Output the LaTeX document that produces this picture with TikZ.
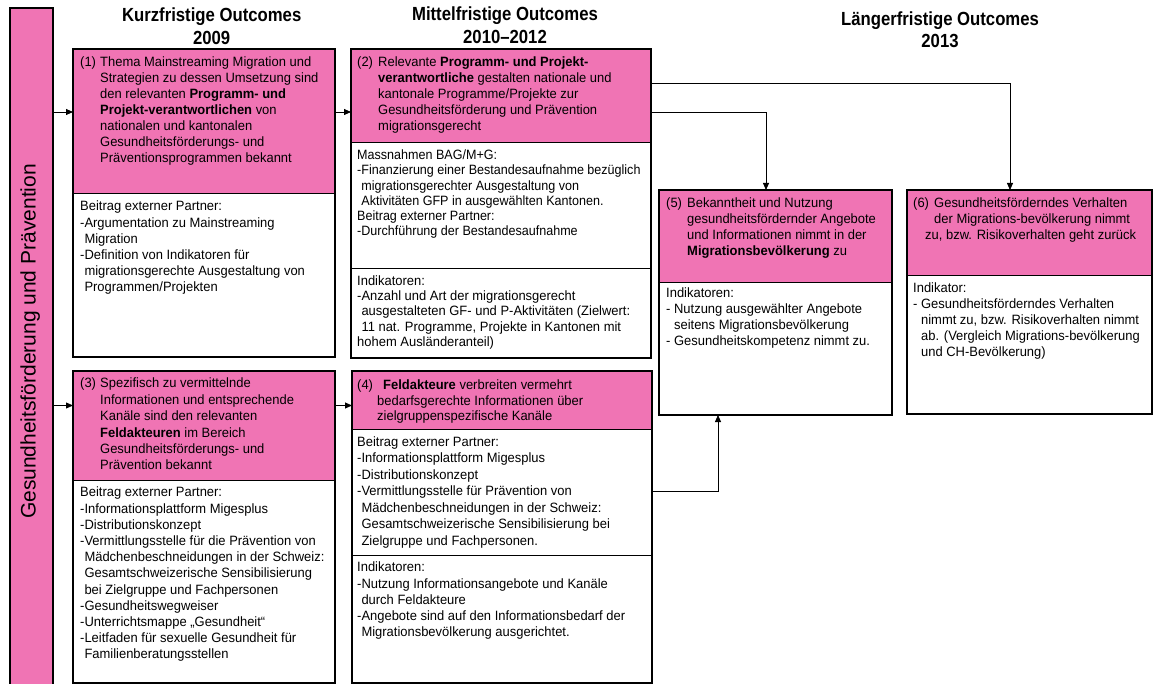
\documentclass[tikz,border=0pt]{standalone}
\usepackage{fontspec}
\setmainfont{Liberation Sans}
\newfontfamily\bodyf[FakeStretch=0.96]{Liberation Sans}
\newfontfamily\bodyn[FakeStretch=0.93]{Liberation Sans}
\newfontfamily\headf[FakeStretch=0.88]{Liberation Sans}
\usetikzlibrary{arrows.meta,calc}
\definecolor{boxpink}{RGB}{240,116,180}
% strut that fixes the first baseline 12pt below the top of a text block
\newcommand\fl{\rule{0pt}{12pt}}
\newcommand\hl{\rule{0pt}{16pt}}
\newcommand\ind{\phantom{-}}
\newcommand\sind{\phantom{- }}

\begin{document}
\begin{tikzpicture}[x=1pt,y=-1pt,
  frame/.style={draw, line width=1.8pt, anchor=north west, inner sep=0pt, outer sep=0pt},
  pinkpart/.style={draw, line width=0.8pt, fill=boxpink, anchor=north west, inner sep=0pt, outer sep=0pt},
  whitepart/.style={draw, line width=0.8pt, fill=white, anchor=north west, inner sep=0pt, outer sep=0pt},
  txt/.style={anchor=north west, inner sep=0pt, align=left, font=\bodyf\fontsize{13.5}{#1}\selectfont},
  txt/.default=16,
  head/.style={anchor=north, inner sep=0pt, align=center, font=\headf\bfseries\fontsize{19}{22.5}\selectfont},
  arr/.style={-{Triangle[length=7pt,width=6pt]}, line width=0.8pt}
]
\useasboundingbox (0,0) rectangle (1156,684);
\fill[white] (0,0) rectangle (1156,684);
\clip (0,0) rectangle (1156,684);

% column headings
\node[head] (h1) at (211.7,5.7) {\hl Kurzfristige Outcomes\\2009};
\node[head] (h2) at (505,4.7) {\hl Mittelfristige Outcomes\\2010–2012};
\node[head] (h3) at (940,9) {\hl Längerfristige Outcomes\\2013};

% side bar
\node[pinkpart, line width=1.8pt, minimum width=43pt, minimum height=700pt] (bar) at (10,8) {};
\node[rotate=90, anchor=base, inner sep=0pt, font=\fontsize{21}{24}\selectfont] (barlabel) at (35.5,341.5) {Gesundheitsförderung und Prävention};

% box 1
\node[whitepart, minimum width=262pt, minimum height=308pt] (b1w) at (73,49) {};
\node[pinkpart, minimum width=262pt, minimum height=144pt] (b1h) at (73,49) {};
\node[frame, minimum width=262pt, minimum height=308pt] (b1) at (73,49) {};
\node[txt] (t1n) at (80,54.5) {\fl(1)};
\node[txt] (t1h) at (100,54.5) {\fl Thema Mainstreaming Migration und\\Strategien zu dessen Umsetzung sind\\den relevanten \textbf{Programm- und}\\\textbf{Projekt-verantwortlichen} von\\nationalen und kantonalen\\Gesundheitsförderungs- und\\Präventionsprogrammen bekannt};
\node[txt=16.2] (t1a) at (80,198.7) {\fl Beitrag externer Partner:\\-Argumentation zu Mainstreaming\\\ind Migration\\-Definition von Indikatoren für\\\ind migrationsgerechte Ausgestaltung von\\\ind Programmen/Projekten};

% box 2
\node[whitepart, minimum width=300pt, minimum height=309pt] (b2w) at (351,49) {};
\node[whitepart, minimum width=300pt, minimum height=126pt] (b2m) at (351,142) {};
\node[pinkpart, minimum width=300pt, minimum height=93pt] (b2h) at (351,49) {};
\node[frame, minimum width=300pt, minimum height=309pt] (b2) at (351,49) {};
\node[txt] (t2n) at (357,54.5) {\fl(2)};
\node[txt=15.9] (t2h) at (378,54.5) {\fl Relevante \textbf{Programm- und Projekt-}\\\textbf{verantwortliche} gestalten nationale und\\kantonale Programme/Projekte zur\\Gesundheitsförderung und Prävention\\migrationsgerecht};
\node[txt=15.3, font=\bodyn\fontsize{13.5}{15.3}\selectfont] (t2a) at (357,147.3) {\fl Massnahmen BAG/M+G:\\-Finanzierung einer Bestandesaufnahme bezüglich\\\ind migrationsgerechter Ausgestaltung von\\\ind Aktivitäten GFP in ausgewählten Kantonen.\\Beitrag externer Partner:\\-Durchführung der Bestandesaufnahme};
\node[txt=15.4] (t2b) at (357,273) {\fl Indikatoren:\\-Anzahl und Art der migrationsgerecht\\\ind ausgestalteten GF- und P-Aktivitäten (Zielwert:\\\ind 11 nat. Programme, Projekte in Kantonen mit\\hohem Ausländeranteil)};

% box 3
\node[whitepart, minimum width=262pt, minimum height=312pt] (b3w) at (73,371) {};
\node[pinkpart, minimum width=262pt, minimum height=109pt] (b3h) at (73,371) {};
\node[frame, minimum width=262pt, minimum height=312pt] (b3) at (73,371) {};
\node[txt] (t3n) at (80,375.7) {\fl(3)};
\node[txt=16.4] (t3h) at (100,375.7) {\fl Spezifisch zu vermittelnde\\Informationen und entsprechende\\Kanäle sind den relevanten\\\textbf{Feldakteuren} im Bereich\\Gesundheitsförderungs- und\\Prävention bekannt};
\node[txt=16.2] (t3a) at (80,484.7) {\fl Beitrag externer Partner:\\-Informationsplattform Migesplus\\-Distributionskonzept\\-Vermittlungsstelle für die Prävention von\\\ind Mädchenbeschneidungen in der Schweiz:\\\ind Gesamtschweizerische Sensibilisierung\\\ind bei Zielgruppe und Fachpersonen\\-Gesundheitswegweiser\\-Unterrichtsmappe „Gesundheit“\\-Leitfaden für sexuelle Gesundheit für\\\ind Familienberatungsstellen};

% box 4
\node[whitepart, minimum width=300pt, minimum height=312pt] (b4w) at (352,371) {};
\node[whitepart, minimum width=300pt, minimum height=126pt] (b4m) at (352,429) {};
\node[pinkpart, minimum width=300pt, minimum height=58pt] (b4h) at (352,371) {};
\node[frame, minimum width=300pt, minimum height=312pt] (b4) at (352,371) {};
\node[txt] (t4n) at (357,377.3) {\fl(4)};
\node[txt=15.7] (t4h) at (377,377.3) {\fl\hspace{6pt}\textbf{Feldakteure} verbreiten vermehrt\\bedarfsgerechte Informationen über\\zielgruppenspezifische Kanäle};
\node[txt=16.5] (t4a) at (357,434) {\fl Beitrag externer Partner:\\-Informationsplattform Migesplus\\-Distributionskonzept\\-Vermittlungsstelle für Prävention von\\\ind Mädchenbeschneidungen in der Schweiz:\\\ind Gesamtschweizerische Sensibilisierung bei\\\ind Zielgruppe und Fachpersonen.};
\node[txt=16.25] (t4b) at (357,559.7) {\fl Indikatoren:\\-Nutzung Informationsangebote und Kanäle\\\ind durch Feldakteure\\-Angebote sind auf den Informationsbedarf der\\\ind Migrationsbevölkerung ausgerichtet.};

% box 5
\node[whitepart, minimum width=233pt, minimum height=225pt] (b5w) at (659,190) {};
\node[pinkpart, minimum width=233pt, minimum height=92pt] (b5h) at (659,190) {};
\node[frame, minimum width=233pt, minimum height=225pt] (b5) at (659,190) {};
\node[txt] (t5n) at (666,195.3) {\fl(5)};
\node[txt] (t5h) at (687,195.3) {\fl Bekanntheit und Nutzung\\gesundheitsfördernder Angebote\\und Informationen nimmt in der\\\textbf{Migrationsbevölkerung} zu};
\node[txt=15.9] (t5a) at (666,285.5) {\fl Indikatoren:\\- Nutzung ausgewählter Angebote\\\sind seitens Migrationsbevölkerung\\- Gesundheitskompetenz nimmt zu.};

% box 6
\node[whitepart, minimum width=245pt, minimum height=224pt] (b6w) at (907,190) {};
\node[pinkpart, minimum width=245pt, minimum height=85pt] (b6h) at (907,190) {};
\node[frame, minimum width=245pt, minimum height=224pt] (b6) at (907,190) {};
\node[txt] (t6n) at (913,195.3) {\fl(6)};
\node[txt] (t6h) at (934,195.3) {\fl Gesundheitsförderndes Verhalten\\der Migrations-bevölkerung nimmt\\\hspace{-9pt}zu, bzw. Risikoverhalten geht zurück};
\node[txt=15.9] (t6a) at (913,280.5) {\fl Indikator:\\- Gesundheitsförderndes Verhalten\\\sind nimmt zu, bzw. Risikoverhalten nimmt\\\sind ab. (Vergleich Migrations-bevölkerung\\\sind und CH-Bevölkerung)};

% connectors
\coordinate (r1) at (0,112);
\coordinate (r3) at (0,405.5);
\coordinate (k6) at (1010,83);
\coordinate (k5) at (766,112);
\coordinate (k4) at (718,491);
\draw[arr] (bar.east |- r1) -- (b1.west |- r1);
\draw[arr] (bar.east |- r3) -- (b3.west |- r3);
\draw[arr] (b1.east |- r1) -- (b2.west |- r1);
\draw[arr] (b3.east |- r3) -- (b4.west |- r3);
\draw[arr] (b2.east |- k6) -| (b6.north -| k6);
\draw[arr] (b2.east |- k5) -| (b5.north -| k5);
\draw[arr] (b4.east |- k4) -| (b5.south -| k4);
\end{tikzpicture}
\end{document}
